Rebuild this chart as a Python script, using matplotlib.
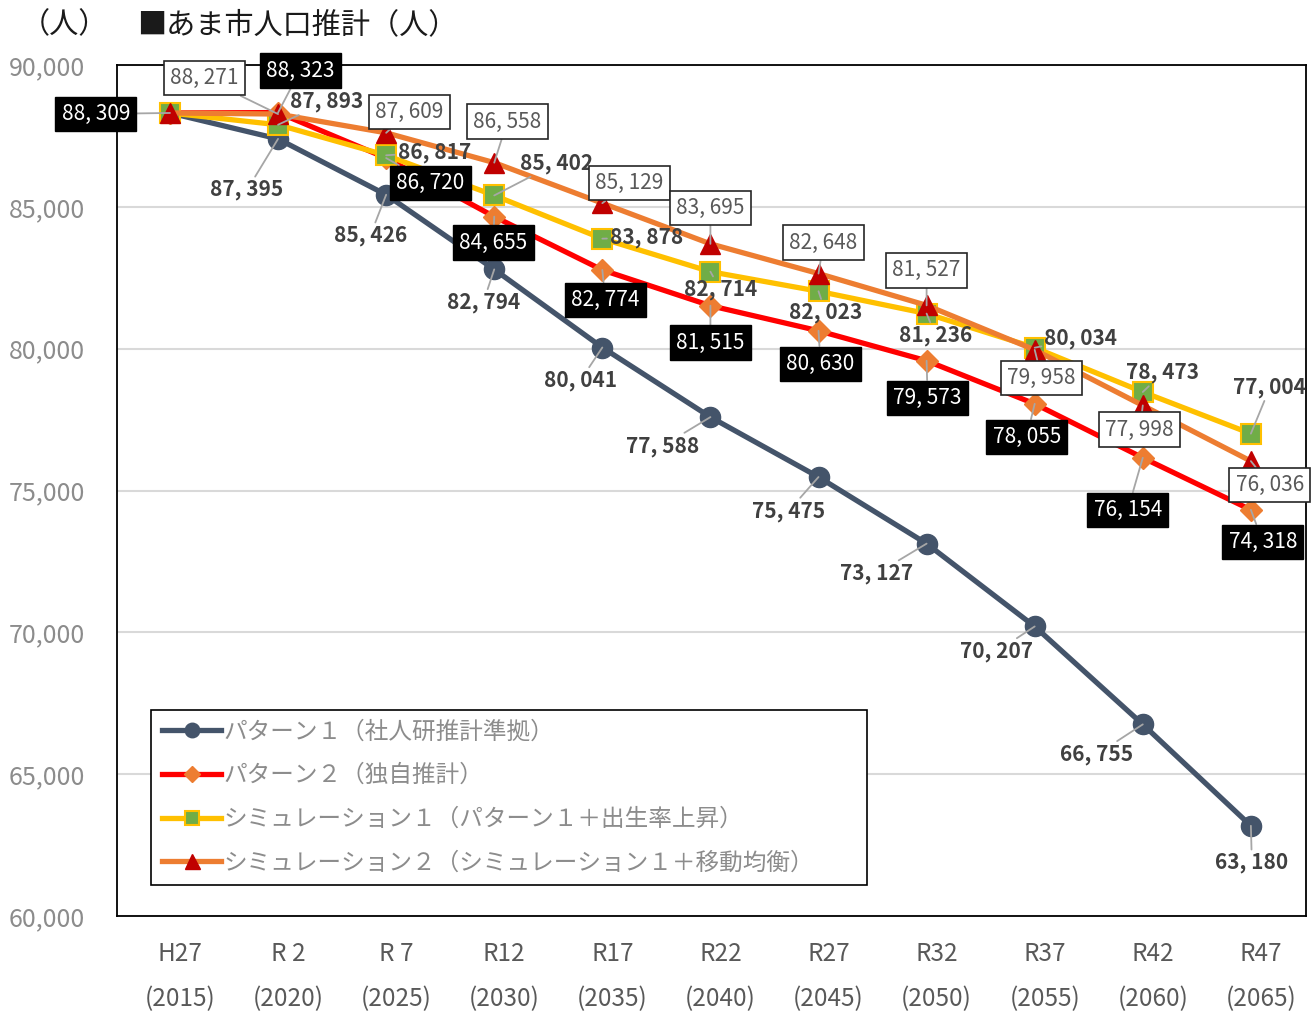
import matplotlib
matplotlib.use("Agg")
import matplotlib.pyplot as plt
from matplotlib.ticker import FuncFormatter
from matplotlib.transforms import ScaledTranslation

plt.rcParams['font.family'] = ['Noto Sans CJK JP', 'DejaVu Sans']

# data
periods = ['H27\n(2015)', 'R 2\n(2020)', 'R 7\n(2025)', 'R12\n(2030)', 'R17\n(2035)', 'R22\n(2040)',
           'R27\n(2045)', 'R32\n(2050)', 'R37\n(2055)', 'R42\n(2060)', 'R47\n(2065)']
pattern1 = [88309, 87395, 85426, 82794, 80041, 77588, 75475, 73127, 70207, 66755, 63180]
pattern2 = [88309, 88323, 86720, 84655, 82774, 81515, 80630, 79573, 78055, 76154, 74318]
sim1 = [88309, 87893, 86817, 85402, 83878, 82714, 82023, 81236, 80034, 78473, 77004]
sim2 = [88309, 88271, 87609, 86558, 85129, 83695, 82648, 81527, 79958, 77998, 76036]
names = ['パターン１（社人研推計準拠）', 'パターン２（独自推計）',
         'シミュレーション１（パターン１＋出生率上昇）',
         'シミュレーション２（シミュレーション１＋移動均衡）']

# label offsets in pixels (dx, dy, screen y downward); None = no label
off_p1 = [None, (-31, 51), (-16, 41), (-11, 33), (-22, 33), (-48, 29), (-30, 34),
          (-50, 30), (-38, 25), (-46, 30), (1, 37)]
off_p2 = [(-74, 1), (22, -42), (44, 25), (-1, 26), (3, 30), (0, 37), (2, 33),
          (1, 37), (-8, 33), (-15, 52), (12, 32)]
off_s1 = [None, (49, -23), (48, -3), (62, -32), (44, -1), (10, 18), (7, 21),
          (9, 22), (46, -9), (20, -19), (19, -46)]
off_s2 = [None, (-74, -36), (23, -21), (13, -41), (27, -20), (0, -36), (5, -31),
          (0, -35), (7, 28), (-3, 24), (19, 24)]

W, H = 1316, 1016
fig = plt.figure(figsize=(W / 100, H / 100), dpi=100)
ax = fig.add_axes([117 / W, (H - 916) / H, (1306 - 117) / W, (916 - 65) / H])

x = list(range(len(periods)))
lw = 3.8
ax.plot(x, pattern1, color='#44546A', lw=lw, marker='o', ms=14.5,
        mfc='#44546A', mec='#44546A', label=names[0], zorder=3)
ax.plot(x, pattern2, color='#FF0000', lw=lw, marker='D', ms=11,
        mfc='#ED7D31', mec='#ED7D31', label=names[1], zorder=4)
ax.plot(x, sim1, color='#FFC000', lw=lw, marker='s', ms=14,
        mfc='#70AD47', mec='#FFC000', mew=1.5, label=names[2], zorder=5)
ax.plot(x, sim2, color='#ED7D31', lw=lw, marker='^', ms=15,
        mfc='#C00000', mec='#C00000', label=names[3], zorder=6)

ax.set_xlim(-0.49, 10.51)
ax.set_ylim(60000, 90000)
ax.set_yticks(range(60000, 90001, 5000))
ax.yaxis.set_major_formatter(FuncFormatter(lambda v, p: f'{int(v):,}'))
ax.set_xticks(x)
ax.set_xticklabels(periods, linespacing=1.95)
ax.tick_params(axis='y', length=0, pad=23, labelsize=18, labelcolor='#8C8C8C')
ax.tick_params(axis='x', length=0, pad=18, labelsize=17.5, labelcolor='#595959')
shift = ScaledTranslation(10 / 100, 0, fig.dpi_scale_trans)
for lab in ax.get_xticklabels():
    lab.set_transform(lab.get_transform() + shift)
ax.grid(axis='y', color='#D9D9D9', lw=1.5)
ax.set_axisbelow(True)
for s in ax.spines.values():
    s.set_color('#000000')
    s.set_linewidth(1.3)

leader = dict(arrowstyle='-', color='#A6A6A6', lw=1.3, shrinkA=0, shrinkB=0)


def fmt(v):
    return f'{v:,}'.replace(',', ', ')


def labels(values, offsets, style, z):
    for i, (v, o) in enumerate(zip(values, offsets)):
        if o is None:
            continue
        kw = dict(xy=(i, v), xytext=(o[0], -o[1]), textcoords='offset pixels',
                  ha='center', va='center', fontsize=15, arrowprops=leader, zorder=z)
        if style == 'black':
            kw.update(color='white',
                      bbox=dict(boxstyle='square,pad=0.3', fc='black', ec='black'))
        elif style == 'white':
            kw.update(color='#595959',
                      bbox=dict(boxstyle='square,pad=0.3', fc='white', ec='#262626', lw=1.2))
        else:
            kw.update(color='#404040', fontweight='bold')
        ax.annotate(fmt(v), **kw)


labels(pattern1, off_p1, 'plain', 7)
labels(pattern2, off_p2, 'black', 8)
labels(sim1, off_s1, 'plain', 7)
labels(sim2, off_s2, 'white', 8)

leg = ax.legend(loc='lower left', bbox_to_anchor=(0.029, 0.036, 0.602, 0.2), mode='expand',
                fontsize=17, frameon=True, fancybox=False, edgecolor='black', framealpha=1,
                labelspacing=0.88, handlelength=2.5, handletextpad=0.1, markerscale=0.72,
                borderpad=0.45, numpoints=1, borderaxespad=0)
leg.get_frame().set_linewidth(1.2)
for t in leg.get_texts():
    t.set_color('#8C8C8C')
leg.set_zorder(10)
leg._legend_box.align = 'left'

fig.text(64 / W, 1 - 25 / H, '（人）', ha='center', va='center', fontsize=21, color='#1A1A1A')
fig.text(137 / W, 1 - 25 / H, '■あま市人口推計（人）', ha='left', va='center',
         fontsize=21, color='#1A1A1A')

fig.savefig('out.png', dpi=100)
